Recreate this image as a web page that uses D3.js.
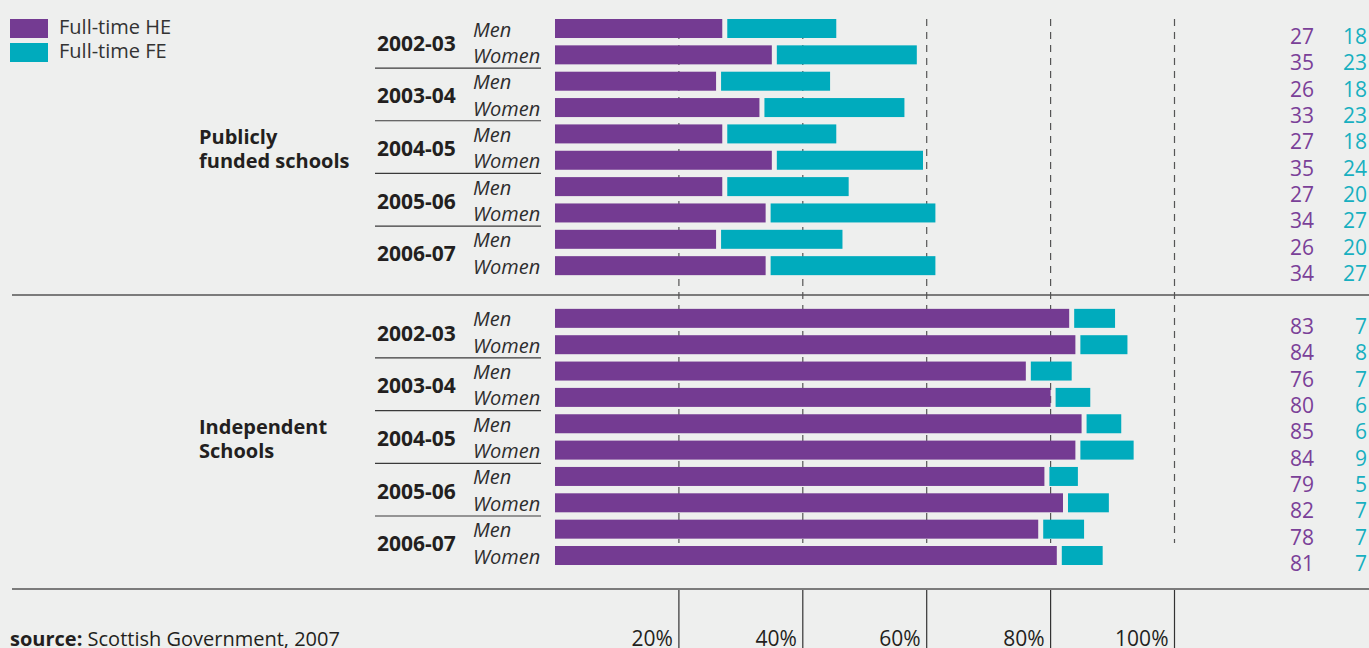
<!DOCTYPE html>
<html>
<head>
<meta charset="utf-8">
<script src="https://cdn.jsdelivr.net/npm/d3@7"></script>
<style>
  html, body { margin: 0; padding: 0; background: #eeefee; }
  svg { display: block; }
  text { font-family: "Open Sans", "Noto Sans", sans-serif; }
</style>
</head>
<body>
<svg id="chart" width="1369" height="648"></svg>
<script>
// Leavers' destinations: share entering full-time higher / further education (%)
const years = ["2002-03", "2003-04", "2004-05", "2005-06", "2006-07"];
const sexes = ["Men", "Women"];
const sectionNames = [["Publicly", "funded schools"], ["Independent", "Schools"]];

// values per row, ordered year by year, Men then Women
const publicHE = [27, 35, 26, 33, 27, 35, 27, 34, 26, 34];
const publicFE = [18, 23, 18, 23, 18, 24, 20, 27, 20, 27];
const indepHE  = [83, 84, 76, 80, 85, 84, 79, 82, 78, 81];
const indepFE  = [7, 8, 7, 6, 6, 9, 5, 7, 7, 7];

const seriesNames = ["Full-time HE", "Full-time FE"];
const tickValues = [20, 40, 60, 80, 100];
const sourceLabel = "source:";
const sourceText = " Scottish Government, 2007";

const colHE = "#743b92", colFE = "#00abbd";
const txtHE = "#7a4098", txtFE = "#17afc0";

// build the row table
const sectionValues = [[publicHE, publicFE], [indepHE, indepFE]];
const rows = [];
const rowKeys = [];
sectionValues.forEach(([he, fe], s) => {
  years.forEach((yr, yi) => {
    sexes.forEach((sex, xi) => {
      const i = yi * 2 + xi;
      const key = s + "|" + yr + "|" + sex;
      rows.push({ key, section: s, year: yr, yearIndex: yi, sex, he: he[i], fe: fe[i] });
      rowKeys.push(key);
    });
  });
  if (s === 0) rowKeys.push("gap");
});

const svg = d3.select("#chart");

const x = d3.scaleLinear().domain([0, 100]).range([555, 1174.5]);
const y = d3.scaleBand().domain(rowKeys)
  .range([15.33, 15.33 + 21 * 26.35])
  .paddingInner(0.279).paddingOuter(0.1395);
const bw = y.bandwidth();

const firstRow = s => rows.find(r => r.section === s);
const lastRow = s => rows.filter(r => r.section === s).slice(-1)[0];

// dashed gridlines
const gridTop = y(rows[0].key);
const gridBottom = y(lastRow(1).key) - 3;
svg.append("g").selectAll("line").data(tickValues).join("line")
  .attr("x1", d => x(d)).attr("x2", d => x(d))
  .attr("y1", gridTop).attr("y2", gridBottom)
  .attr("stroke", "#555").attr("stroke-width", 1.2)
  .attr("stroke-dasharray", "7,6");

// section divider and bottom rule
const divY = (y(lastRow(0).key) + bw + y(firstRow(1).key)) / 2 + 3;
const baseY = y(lastRow(1).key) + bw + 24;
[divY, baseY].forEach(v => {
  svg.append("line").attr("x1", 12).attr("x2", 1369).attr("y1", v).attr("y2", v)
    .attr("stroke", "#555").attr("stroke-width", 1.5);
});

// year separators inside each section
const seps = [];
[0, 1].forEach(s => {
  years.slice(1).forEach(yr => {
    const prev = rows.find(r => r.section === s && r.yearIndex === years.indexOf(yr) - 1 && r.sex === "Women");
    const next = rows.find(r => r.section === s && r.year === yr && r.sex === "Men");
    seps.push((y(prev.key) + bw + y(next.key)) / 2);
  });
});
svg.append("g").selectAll("line").data(seps).join("line")
  .attr("x1", 375).attr("x2", 541).attr("y1", d => d).attr("y2", d => d)
  .attr("stroke", "#3a3a3a").attr("stroke-width", 1.2);

// bars
const bars = svg.append("g");
bars.selectAll("rect.he").data(rows).join("rect").attr("class", "he")
  .attr("x", x(0)).attr("y", d => y(d.key))
  .attr("width", d => x(d.he) - x(0)).attr("height", bw)
  .attr("fill", colHE);
bars.selectAll("rect.fe").data(rows).join("rect").attr("class", "fe")
  .attr("x", d => x(d.he) + 5).attr("y", d => y(d.key))
  .attr("width", d => x(d.fe) - x(0) - 2.5).attr("height", bw)
  .attr("fill", colFE);

// Men / Women labels
svg.append("g").selectAll("text").data(rows).join("text")
  .attr("x", 473).attr("y", d => y(d.key) + bw - 1.5)
  .attr("font-size", 20).attr("font-style", "italic").attr("fill", "#2e2e2e")
  .text(d => d.sex);

// year labels
const yearRows = rows.filter(r => r.sex === "Men");
svg.append("g").selectAll("text").data(yearRows).join("text")
  .attr("x", 377).attr("y", d => (y(d.key) + y(d.key) + 26.35 + bw) / 2 + 9)
  .attr("font-size", 21).attr("font-weight", "bold").attr("fill", "#231f20")
  .text(d => d.year);

// section labels
sectionNames.forEach((lines, s) => {
  const c = (y(firstRow(s).key) + y(lastRow(s).key) + bw) / 2;
  const t = svg.append("text").attr("x", 199).attr("y", c - 3)
    .attr("font-size", 20).attr("font-weight", "bold").attr("fill", "#231f20");
  lines.forEach((ln, i) => t.append("tspan").attr("x", 199).attr("dy", i ? 24 : 0).text(ln));
});

// value columns
svg.append("g").selectAll("text").data(rows).join("text")
  .attr("x", 1314).attr("y", d => y(d.key) + bw + 6).attr("text-anchor", "end")
  .attr("font-size", 21).attr("fill", txtHE).text(d => d.he);
svg.append("g").selectAll("text").data(rows).join("text")
  .attr("x", 1367).attr("y", d => y(d.key) + bw + 6).attr("text-anchor", "end")
  .attr("font-size", 21).attr("fill", txtFE).text(d => d.fe);

// bottom axis: solid tick rules with labels to their left
const axisG = svg.append("g");
axisG.selectAll("line").data(tickValues).join("line")
  .attr("x1", d => x(d)).attr("x2", d => x(d))
  .attr("y1", baseY + 1).attr("y2", 648)
  .attr("stroke", "#333").attr("stroke-width", 1.2);
axisG.selectAll("text").data(tickValues).join("text")
  .attr("x", d => x(d) - 6).attr("y", 646).attr("text-anchor", "end")
  .attr("font-size", 21).attr("fill", "#231f20").text(d => d + "%");

// source line
const src = svg.append("text").attr("x", 10).attr("y", 646)
  .attr("font-size", 20).attr("fill", "#231f20");
src.append("tspan").attr("font-weight", "bold").text(sourceLabel);
src.append("tspan").text(sourceText);

// legend
const legend = svg.append("g");
[colHE, colFE].forEach((c, i) => {
  legend.append("rect").attr("x", 10).attr("y", 19 + i * 24).attr("width", 38).attr("height", 19).attr("fill", c);
  legend.append("text").attr("x", 59).attr("y", 34 + i * 24)
    .attr("font-size", 20).attr("fill", "#333").text(seriesNames[i]);
});
</script>
</body>
</html>
